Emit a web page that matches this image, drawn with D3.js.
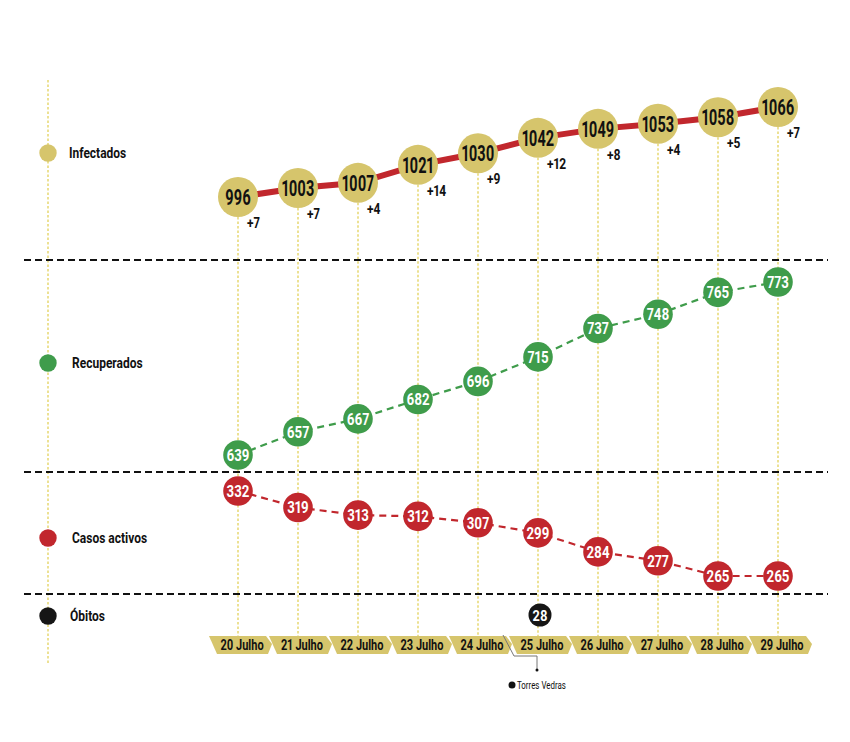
<!DOCTYPE html>
<html>
<head>
<meta charset="utf-8">
<script src="https://cdn.jsdelivr.net/npm/d3@7"></script>
<style>
  html, body { margin: 0; padding: 0; background: #fff; }
  svg text { font-family: "Roboto", "Liberation Sans", sans-serif; font-weight: bold; font-variant-numeric: proportional-nums; }
</style>
</head>
<body>
<svg id="chart" width="850" height="742"></svg>
<script>
// daily counts, 20-29 Julho
const dates = ['20 Julho', '21 Julho', '22 Julho', '23 Julho', '24 Julho',
               '25 Julho', '26 Julho', '27 Julho', '28 Julho', '29 Julho'];
const infectados = [996, 1003, 1007, 1021, 1030, 1042, 1049, 1053, 1058, 1066];
const novos = [7, 7, 4, 14, 9, 12, 8, 4, 5, 7];
const recuperados = [639, 657, 667, 682, 696, 715, 737, 748, 765, 773];
const activos = [332, 319, 313, 312, 307, 299, 284, 277, 265, 265];
const obitos = [{ date: '25 Julho', value: 28, note: 'Torres Vedras' }];

const legend = [
  { label: 'Infectados', y: 153, color: '#d6c56c' },
  { label: 'Recuperados', y: 363, color: '#3f9c4b' },
  { label: 'Casos activos', y: 538, color: '#c1272d' },
  { label: 'Óbitos', y: 616, color: '#161616' }
];
const separators = [260, 472, 594];

const svg = d3.select('#chart');
const khaki = '#d6c56c', green = '#3f9c4b', red = '#c1272d', guide = '#e3d15a';

const x = d3.scalePoint().domain(dates).range([238, 778]);
// each band gets its own y scale, same px per person
const yInf = d3.scaleLinear().domain([996, 1066]).range([197, 107]);
const yRec = d3.scaleLinear().domain([639, 773]).range([455, 282]);
const yAct = d3.scaleLinear().domain([265, 332]).range([576, 491]);
const rInf = 20, rSmall = 14.8;

const tagTop = 636, tagBottom = 654;

// the original uses a condensed face, fake it with a horizontal squeeze
const squeeze = (px, py, sx) => `translate(${px},${py}) scale(${sx},1)`;

// legend guide + column guides
svg.append('line')
  .attr('x1', 48).attr('x2', 48).attr('y1', 80).attr('y2', 663)
  .attr('stroke', guide).attr('stroke-width', 1.3).attr('stroke-dasharray', '2.5,2');

svg.append('g').selectAll('line')
  .data(dates)
  .join('line')
  .attr('x1', d => x(d)).attr('x2', d => x(d))
  .attr('y1', (d, i) => yInf(infectados[i]) + rInf)
  .attr('y2', tagTop)
  .attr('stroke', guide).attr('stroke-width', 1.3).attr('stroke-dasharray', '2.5,2');

// separators
svg.append('g').selectAll('line')
  .data(separators)
  .join('line')
  .attr('x1', 24).attr('x2', 828)
  .attr('y1', d => d).attr('y2', d => d)
  .attr('stroke', '#111').attr('stroke-width', 2).attr('stroke-dasharray', '7,4');

// legend
const lg = svg.append('g').selectAll('g').data(legend).join('g');
lg.append('circle').attr('cx', 48).attr('cy', d => d.y).attr('r', 8.7).attr('fill', d => d.color);
lg.append('text')
  .attr('transform', (d, i) => squeeze(i === 0 ? 69 : (i === 3 ? 70 : 72), d.y + 5, 0.8))
  .attr('font-size', 15).attr('fill', '#111')
  .text(d => d.label);

// infectados
svg.append('path')
  .datum(infectados)
  .attr('fill', 'none').attr('stroke', red).attr('stroke-width', 6)
  .attr('d', d3.line().x((d, i) => x(dates[i])).y(d => yInf(d)));

const inf = svg.append('g').selectAll('g').data(infectados).join('g')
  .attr('transform', (d, i) => `translate(${x(dates[i])},${yInf(d)})`);
inf.append('circle').attr('r', rInf).attr('fill', khaki);
inf.append('text').attr('text-anchor', 'middle')
  .attr('transform', squeeze(0, 7.8, 0.66))
  .attr('font-size', 22).attr('fill', '#111').text(d => d);
inf.append('text')
  .attr('transform', squeeze(9, 31, 0.8))
  .attr('font-size', 15).attr('fill', '#111').text((d, i) => '+' + novos[i]);

// dashed small-circle series
function smallSeries(values, y, color) {
  svg.append('path')
    .datum(values)
    .attr('fill', 'none').attr('stroke', color).attr('stroke-width', 2.2)
    .attr('stroke-dasharray', '7,5')
    .attr('d', d3.line().x((d, i) => x(dates[i])).y(d => y(d)));
  const g = svg.append('g').selectAll('g').data(values).join('g')
    .attr('transform', (d, i) => `translate(${x(dates[i])},${y(d)})`);
  g.append('circle').attr('r', rSmall).attr('fill', color);
  g.append('text').attr('text-anchor', 'middle')
    .attr('transform', squeeze(0, 6, 0.78))
    .attr('font-size', 17).attr('fill', '#fff').text(d => d);
}
smallSeries(recuperados, yRec, green);
smallSeries(activos, yAct, red);

// date tags
const tags = svg.append('g').selectAll('g').data(dates).join('g');
tags.append('path')
  .attr('fill', khaki)
  .attr('d', d => {
    const x0 = x(d) - 29;
    return `M${x0},${tagTop}L${x0 + 57},${tagTop}L${x0 + 63},${tagTop + 8}L${x0 + 59},${tagBottom}L${x0 + 8},${tagBottom}Z`;
  });
tags.append('text')
  .attr('transform', d => squeeze(x(d) + 4, tagBottom - 4, 0.76))
  .attr('text-anchor', 'middle').attr('font-size', 14.5).attr('fill', '#111')
  .text(d => d);

// obitos
const ob = svg.append('g').selectAll('g').data(obitos).join('g');
ob.append('circle').attr('cx', d => x(d.date) + 2).attr('cy', 615).attr('r', 11.5).attr('fill', '#161616');
ob.append('text')
  .attr('transform', d => squeeze(x(d.date) + 2, 620.5, 0.85))
  .attr('text-anchor', 'middle').attr('font-size', 15).attr('fill', '#fff').text(d => d.value);

// Torres Vedras callout
ob.append('path')
  .attr('fill', 'none').attr('stroke', '#777').attr('stroke-width', 1)
  .attr('d', d => {
    const cx = x(d.date);
    return `M${cx - 35},${tagTop - 1}L${cx - 24},${tagBottom + 2}L${cx - 1},${tagBottom + 2}L${cx - 1},670`;
  });
ob.append('circle').attr('cx', d => x(d.date) - 1).attr('cy', 670).attr('r', 1.5).attr('fill', '#111');
ob.append('circle').attr('cx', d => x(d.date) - 26).attr('cy', 685).attr('r', 3.5).attr('fill', '#111');
ob.append('text')
  .attr('transform', d => squeeze(x(d.date) - 21, 689, 0.72))
  .attr('font-size', 11).attr('fill', '#111')
  .style('font-weight', 'normal')
  .text(d => d.note);
</script>
</body>
</html>
